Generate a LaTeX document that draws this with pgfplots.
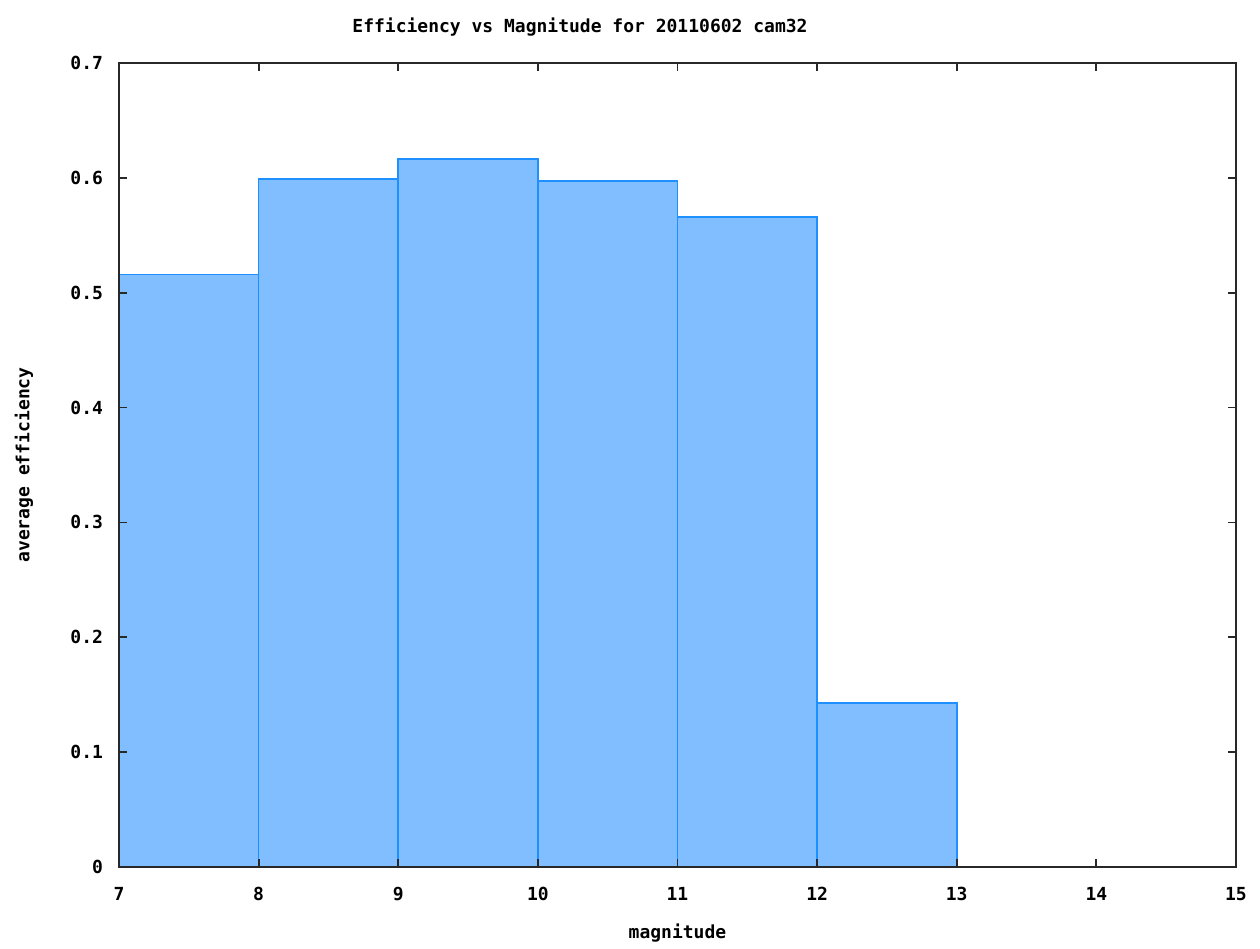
\documentclass[border=0pt]{standalone}
\usepackage{fontspec}
\setmainfont{DejaVu Sans Mono}[BoldFont={DejaVu Sans Mono Bold}]
\usepackage{pgfplots}
\pgfplotsset{compat=1.18}
\definecolor{barfill}{RGB}{128,190,255}
\definecolor{baredge}{RGB}{30,144,255}
\definecolor{frame}{RGB}{40,40,40}
\begin{document}
\begin{tikzpicture}
\path (0,0) rectangle (630pt,473.5pt);
\begin{axis}[
  at={(59.5pt,40pt)}, anchor=south west,
  scale only axis,
  width=558.5pt, height=402pt,
  xmin=7, xmax=15, ymin=0, ymax=0.7,
  xtick={7,8,...,15},
  ytick={0,0.1,...,0.7},
  yticklabels={0,0.1,0.2,0.3,0.4,0.5,0.6,0.7},
  tick align=inside,
  major tick length=4pt,
  axis line style={frame, line width=0.9pt},
  every tick/.style={frame, line width=0.9pt},
  /pgf/number format/assume math mode=true,
  tick label style={font=\fontsize{9}{10}\selectfont\bfseries},
  xticklabel style={yshift=-6.5pt},
  yticklabel style={xshift=-4.5pt},
  title={Efficiency vs Magnitude for 20110602 cam32},
  title style={font=\fontsize{9}{10}\selectfont\bfseries, at={(axis description cs:0.4127,1)}, anchor=center, yshift=12pt},
  xlabel={magnitude},
  xlabel style={font=\fontsize{9}{10}\selectfont\bfseries, at={(axis description cs:0.5,0)}, anchor=center, yshift=-33pt},
  ylabel={average efficiency},
  ylabel style={font=\fontsize{9}{10}\selectfont\bfseries, at={([xshift=-47.5pt]axis description cs:0,0.5)}, anchor=center},
  axis on top,
]
\addplot[ybar interval, fill=barfill, draw=baredge, line width=0.8pt]
  coordinates {(7,0.516) (8,0.599) (9,0.6165) (10,0.597) (11,0.5657) (12,0.1427) (13,0.1427)};
\end{axis}
\end{tikzpicture}
\end{document}
